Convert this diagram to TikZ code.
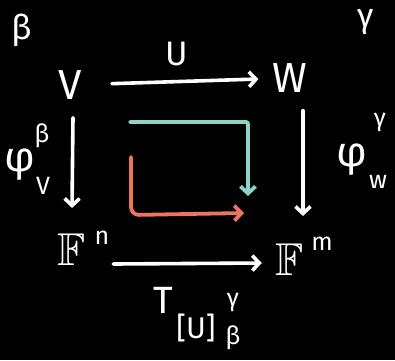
\documentclass[tikz,border=0pt]{standalone}
\usepackage{fontspec}
\usepackage{amssymb}
\setmainfont{Fira Sans}
\usetikzlibrary{arrows.meta}
\definecolor{chteal}{HTML}{8ED3C7}
\definecolor{chred}{HTML}{EC7461}
\begin{document}
\begin{tikzpicture}[x=1pt,y=-1pt,
  obj/.style={white,font=\fontsize{42}{44}\selectfont,inner sep=0pt},
  lbl/.style={white,font=\fontsize{34}{36}\selectfont,inner sep=0pt},
  idx/.style={white,font=\fontsize{25}{27}\selectfont,inner sep=0pt},
  mor/.style={white,line width=3.6pt,line cap=round,-{Straight Barb[length=7pt,width=15pt]}},
  chase/.style={line width=3.8pt,line cap=round,line join=round,-{Straight Barb[length=7pt,width=15pt]}}]

  % =====================================================================
  % 1. BACKGROUND
  % =====================================================================
  \fill[black] (0,0) rectangle (395,360);
  \useasboundingbox (0,0) rectangle (395,360);

  % =====================================================================
  % 2. OBJECTS
  % =====================================================================
  \node[lbl] (betaTL) at (22,30) {β};
  \node[obj] (nV) at (70,85) {V};
  \node[obj] (nW) at (290,78) {W};
  \node[lbl] (gamTR) at (366,22) {γ};
  \node[obj,font=\fontsize{46}{48}\selectfont] (nFn) at (72,250) {$\mathbb{F}$};
  \node[idx] (supN) at (102,238) {n};
  \node[obj,font=\fontsize{46}{48}\selectfont] (nFm) at (290,260) {$\mathbb{F}$};
  \node[idx] (supM) at (322,244) {m};

  % =====================================================================
  % 3. MORPHISMS
  % =====================================================================
  \draw[mor,shorten <=30pt,shorten >=14pt] (nV) -- (nW)
        node[lbl,midway,yshift=28pt] (labU) {U};
  \draw[mor] ([xshift=3pt,yshift=-18pt]nV.south) -- ([yshift=26pt]nFn.north);
  \draw[mor] ([xshift=13pt,yshift=-18pt]nW.south) -- ([xshift=13pt,yshift=28pt]nFm.north);
  \draw[mor] ([xshift=27pt,yshift=-14pt]nFn.east) -- ([xshift=-14pt,yshift=-3pt]nFm.west);

  % labels of the vertical maps
  \node[white,font=\fontsize{42}{44}\selectfont,inner sep=0pt] (phiV) at (20,165) {φ};
  \node[idx] (phiVsup) at (42,136) {β};
  \node[idx] (phiVsub) at (43,186) {V};
  \node[white,font=\fontsize{42}{44}\selectfont,inner sep=0pt] (phiW) at (352,160) {φ};
  \node[idx] (phiWsup) at (380,122) {γ};
  \node[idx] (phiWsub) at (378,182) {w};

  % label of the bottom map
  \node[white,font=\fontsize{38}{40}\selectfont,inner sep=0pt] (labT) at (163,300) {T};
  \node[white,font=\fontsize{30}{32}\selectfont,inner sep=0pt] (labTU) at (196,328) {[U]};
  \node[idx] (labTsup) at (233,302) {γ};
  \node[idx] (labTsub) at (233,338) {β};

  % =====================================================================
  % 4. DIAGRAM CHASE
  % =====================================================================
  \coordinate (tealA) at (130,122);
  \coordinate (tealB) at (248,122);
  \coordinate (tealC) at (248,196);
  \coordinate (redA) at (131,157);
  \coordinate (redB) at (131,215);
  \coordinate (redC) at (244,213);
  \draw[chase,chteal,rounded corners=2pt] (tealA) -- (tealB) -- (tealC);
  \draw[chase,chred,rounded corners=8pt] (redA) -- (redB) -- (redC);

\end{tikzpicture}
\end{document}
